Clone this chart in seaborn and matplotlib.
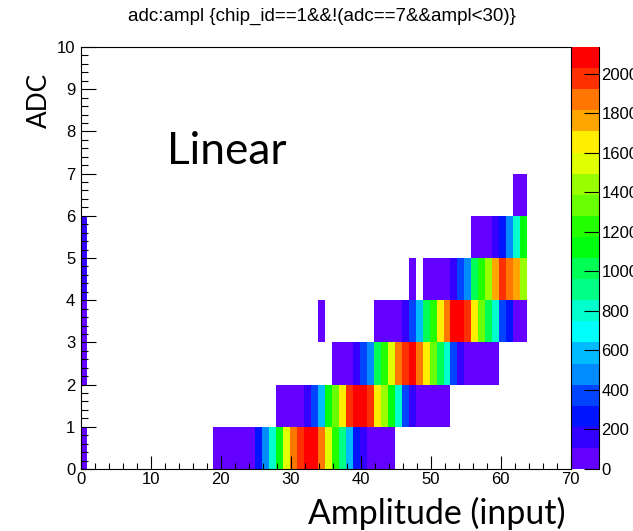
import colorsys
import numpy as np
import pandas as pd
import matplotlib
matplotlib.use("Agg")
import matplotlib.pyplot as plt
from matplotlib.colors import ListedColormap
from matplotlib.ticker import MultipleLocator
import seaborn as sns

# ---------------- data ----------------
title = "adc:ampl {chip_id==1&&!(adc==7&&ampl<30)}"
x_label = "Amplitude (input)"
y_label = "ADC"
annotation = "Linear"
cbar_ticks = [0, 200, 400, 600, 800, 1000, 1200, 1400, 1600, 1800, 2000]

# each ADC row: first amplitude bin and the counts of consecutive amplitude bins
adc0_start = 19
adc0_counts = [40, 60, 80, 70, 90, 100, 250, 470, 820, 1100, 1530, 1850, 1990,
               2136, 2100, 1870, 1540, 1230, 900, 590, 270, 160, 90, 60, 40, 30]
adc1_start = 28
adc1_counts = [30, 50, 70, 95, 170, 380, 600, 1110, 1330, 1660, 1970, 2080, 2060,
               1990, 1650, 1430, 1100, 790, 390, 180, 95, 70, 55, 40, 25]
adc2_start = 36
adc2_counts = [40, 70, 95, 170, 370, 490, 1000, 1230, 1550, 1860, 1980, 2070, 1880,
               1660, 1330, 1010, 800, 380, 170, 95, 70, 50, 35, 20]
adc3_start = 42
adc3_counts = [35, 55, 75, 95, 180, 380, 600, 1010, 1220, 1650, 1870, 2060, 2090,
               1980, 1660, 1340, 1000, 790, 380, 260, 90, 60]
adc4_start = 49
adc4_counts = [30, 50, 75, 95, 170, 380, 500, 1000, 1220, 1440, 1760, 1980, 1870,
               1750, 1430]
adc5_start = 56
adc5_counts = [30, 55, 85, 170, 270, 480, 810, 1120]
adc6_start = 62
adc6_counts = [40, 70]

# the column at amplitude 0
ampl0_adc = [0, 2, 3, 4, 5]
ampl0_counts = [50, 40, 60, 150, 140]
# isolated single bins
iso_ampl = [34, 47]
iso_adc = [3, 4]
iso_counts = [15, 15]

# ---------------- build table ----------------
rows = []
for adc, (start, counts) in enumerate([(adc0_start, adc0_counts), (adc1_start, adc1_counts),
                                       (adc2_start, adc2_counts), (adc3_start, adc3_counts),
                                       (adc4_start, adc4_counts), (adc5_start, adc5_counts),
                                       (adc6_start, adc6_counts)]):
    for i, c in enumerate(counts):
        rows.append((start + i, adc, c))
for a, c in zip(ampl0_adc, ampl0_counts):
    rows.append((0, a, c))
for x, a, c in zip(iso_ampl, iso_adc, iso_counts):
    rows.append((x, a, c))
df = pd.DataFrame(rows, columns=["ampl", "adc", "count"])

# ROOT "pretty" palette (SetPalette(1)) sampled for 20 contours
pal = []
for k in range(20):
    idx = int((k + 0.99) * 50 / 20)
    hue = 280 - (idx + 1) * 5.6
    pal.append(colorsys.hls_to_rgb(hue / 360.0, 0.5, 1.0))
cmap = ListedColormap(pal)

# ---------------- figure ----------------
W, H = 633, 531
plt.rcParams["font.family"] = ["Liberation Sans", "DejaVu Sans"]
fig = plt.figure(figsize=(W / 100, H / 100), dpi=100)
fig.patch.set_facecolor("white")

def fx(x):
    return x / W

def fy(y):
    return 1 - y / H

L, R, T, B = 80.7, 570.5, 47.0, 469.0
ax = fig.add_axes([fx(L), fy(B), fx(R) - fx(L), fy(T) - fy(B)])
cax = fig.add_axes([fx(571.7), fy(B), fx(599.3) - fx(571.7), fy(T) - fy(B)])

xedges = np.arange(-0.15, 70.9, 1.0)
yedges = np.arange(0, 11, 1.0)
sns.histplot(data=df, x="ampl", y="adc", weights="count", bins=[xedges, yedges],
             cmap=cmap, vmin=0, vmax=df["count"].max(), cbar=True, cbar_ax=cax, ax=ax)

ax.set_xlim(0, 70)
ax.set_ylim(0, 10)
ax.set_xlabel("")
ax.set_ylabel("")
ax.grid(False)
for s in ax.spines.values():
    s.set_visible(True)
    s.set_color("black")
    s.set_linewidth(0.8)
ax.set_zorder(2)
ax.patch.set_visible(False)

ax.xaxis.set_major_locator(MultipleLocator(10))
ax.xaxis.set_minor_locator(MultipleLocator(2))
ax.yaxis.set_major_locator(MultipleLocator(1))
ax.yaxis.set_minor_locator(MultipleLocator(0.2))
ax.tick_params(axis="both", which="both", direction="in", top=False, right=False,
               width=0.8, color="black", labelsize=12)
ax.tick_params(axis="x", which="major", length=9.1, pad=2.5)
ax.tick_params(axis="x", which="minor", length=4.6)
ax.tick_params(axis="y", which="major", length=10.6, pad=4)
ax.tick_params(axis="y", which="minor", length=5.3)

cb = ax.collections[0].colorbar
cb.outline.set_visible(False)
cb.set_ticks(cbar_ticks)
cb.set_ticklabels([str(t) for t in cbar_ticks])
cax.yaxis.set_ticks_position("right")
cax.tick_params(axis="y", direction="in", length=10.8, width=0.8, color="black",
                labelsize=12, pad=1.5)
cax.minorticks_off()
cax.plot([1, 1], [0, 1], transform=cax.transAxes, color="black", lw=0.8, clip_on=False)

# ---------------- texts ----------------
t_title = fig.text(fx(321.5), fy(21), title, ha="center", va="baseline", fontsize=13.3)
t_x = fig.text(fx(566), fy(524), x_label, ha="right", va="baseline",
               family=["Lato", "DejaVu Sans"], fontsize=24)
t_y = fig.text(fx(47), fy(73), y_label, ha="right", va="baseline", rotation=90,
               rotation_mode="anchor", family=["Lato", "DejaVu Sans"], fontsize=23)
t_lin = fig.text(fx(167), fy(164), annotation, ha="left", va="baseline",
                 family=["Lato", "DejaVu Sans"], fontsize=33)

# scale the texts so their lengths match the reference
fig.canvas.draw()
r = fig.canvas.get_renderer()
for t, target, vertical in [(t_title, 389, False), (t_x, 258, False),
                            (t_y, 55, True), (t_lin, 120, False)]:
    ext = t.get_window_extent(r)
    size = ext.height if vertical else ext.width
    t.set_fontsize(t.get_fontsize() * target / size)

fig.savefig("out.png", dpi=100, facecolor="white")
